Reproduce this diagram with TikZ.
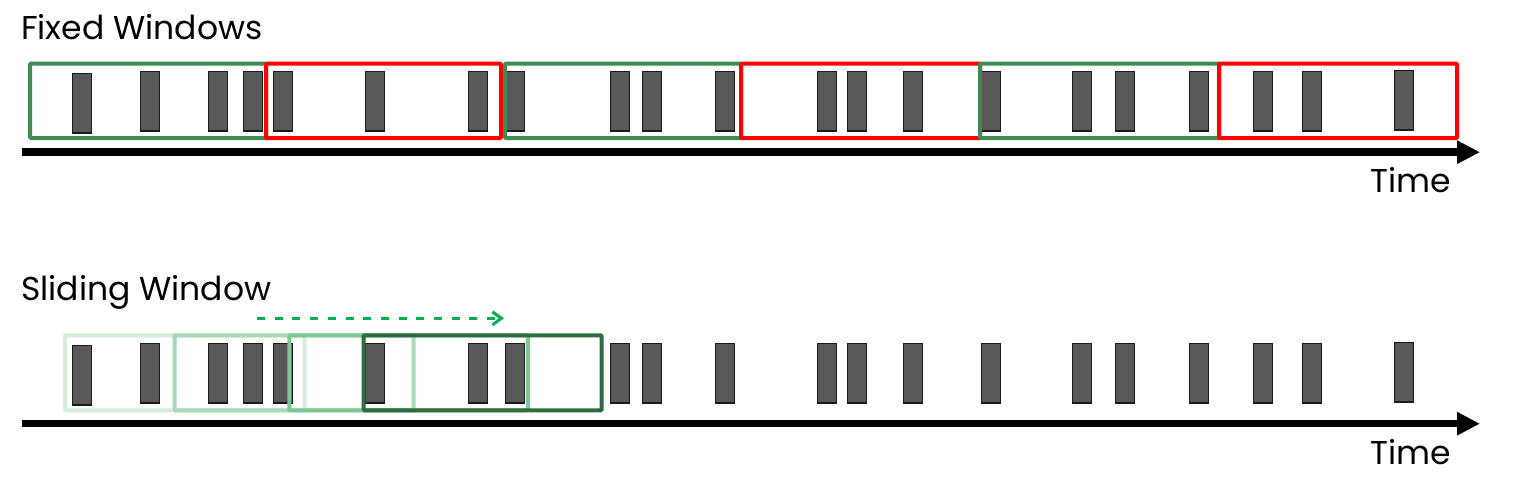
\documentclass[tikz,border=0pt]{standalone}
\usepackage{fontspec}
\setmainfont{Poppins}
\usetikzlibrary{arrows.meta}

\definecolor{wingreen}{HTML}{3F8A55}
\definecolor{winred}{HTML}{FF0000}
\definecolor{eventgray}{HTML}{595959}
\definecolor{slidearrow}{HTML}{00B050}
\definecolor{slideA}{HTML}{D5EBDC}
\definecolor{slideB}{HTML}{A9D8B8}
\definecolor{slideC}{HTML}{7EC794}
\definecolor{slideD}{HTML}{2E6B3E}

\tikzset{
    event/.style={draw=black!90, fill=eventgray, line width=1.3pt,
        minimum width=19.3pt, minimum height=59.7pt, inner sep=0pt},
    window/.style={line width=4pt, rounded corners=1pt},
    timeline/.style={line width=7.5pt, -{Triangle[length=23pt,width=22pt]}},
    heading/.style={font=\fontsize{33}{40}\selectfont, anchor=base west, inner sep=0pt},
    timelabel/.style={font=\fontsize{33}{40}\selectfont, anchor=base, inner sep=0pt}
}

\begin{document}
\begin{tikzpicture}[x=1pt, y=-1pt]
            \useasboundingbox (0,0) rectangle (1514,485);

            % Fixed Windows
            \node[heading] (fixedtitle) at (21,39) {Fixed Windows};
            \foreach \x/\d [count=\i] in {82/2,150/0,218/0,253/0,283/0,375/0,478/0,515/0,
                    620/0,652/0,725/0,827/0,857/0,913/0,991/0,1082/0,1125/0,1199/0,1263/0,1312/0,1404/-1}
                \node[event] (fixed\i) at (\x,101+\d) {};
            % windows
            \draw[window, wingreen] (30,63.7) rectangle (266,138);
            \draw[window, winred] (266,63.7) rectangle (501,138);
            \draw[window, wingreen] (505,63.7) rectangle (741,138);
            \draw[window, winred] (741,63.7) rectangle (980,138);
            \draw[window, wingreen] (980,63.7) rectangle (1219,138);
            \draw[window, winred] (1219,63.7) rectangle (1457,138);
            % time axis
            \coordinate (fixedstart) at (22,152.2);
            \coordinate (fixedend) at (1480,152.2);
            \draw[timeline] (fixedstart) -- (fixedend);
            \node[timelabel] (fixedtime) at (1411,192.7) {Time};

            % Sliding Window
            \node[heading] (slidetitle) at (21,300.7) {Sliding Window};
            \foreach \x/\d [count=\i] in {82/2,150/0,218/0,253/0,283/0,375/0,478/0,515/0,
                    620/0,652/0,725/0,827/0,857/0,913/0,991/0,1082/0,1125/0,1199/0,1263/0,1312/0,1404/-1}
                \node[event] (slide\i) at (\x,373+\d) {};
            % windows
            \draw[window, slideA] (65,335.3) rectangle (304.5,410.3);
            \draw[window, slideB] (174.5,335.3) rectangle (413.7,410.3);
            \draw[window, slideC] (289.4,335.3) rectangle (528,410.3);
            \draw[window, slideD] (363.7,335.3) rectangle (601.7,410.3);
            % slide direction
            \coordinate (movestart) at (257,318.3);
            \coordinate (moveend) at (504,318.3);
            \draw[slidearrow, line width=3pt, dash pattern=on 8pt off 9.7pt,
                -{Straight Barb[length=9pt,width=13pt,line width=3pt]}] (movestart) -- (moveend);
            % time axis
            \coordinate (slidestart) at (22,423.7);
            \coordinate (slideend) at (1480,423.7);
            \draw[timeline] (slidestart) -- (slideend);
            \node[timelabel] (slidetime) at (1411,464.5) {Time};
        \end{tikzpicture}
\end{document}
